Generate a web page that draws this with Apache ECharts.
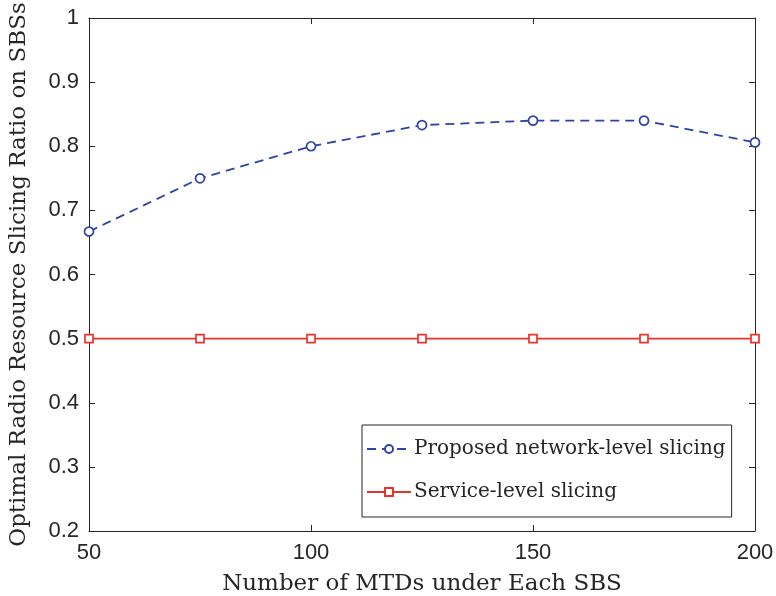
<!DOCTYPE html>
<html>
<head>
<meta charset="utf-8">
<script src="https://cdn.jsdelivr.net/npm/echarts@6/dist/echarts.min.js"></script>
<style>
  html, body { margin: 0; padding: 0; background: #fff; }
  #chart { width: 776px; height: 596px; }
</style>
</head>
<body>
<div id="chart"></div>
<script>
// values
var mtds = [50, 75, 100, 125, 150, 175, 200];
var proposed = [0.667, 0.75, 0.8, 0.833, 0.84, 0.84, 0.806];
var serviceLevel = [0.5, 0.5, 0.5, 0.5, 0.5, 0.5, 0.5];

var blue = '#2e43a6';
var red = '#e8352c';
var serif = '"DejaVu Serif", "Liberation Serif", serif';
var sans = '"Liberation Sans", Arial, sans-serif';
var titleSize = 23;

function pairs(xs, ys) {
  return xs.map(function (x, i) { return [x, ys[i]]; });
}

var chart = echarts.init(document.getElementById('chart'));

var boxAxis = {
  axisLine: { show: true, lineStyle: { color: '#262626', width: 1 } },
  axisTick: { show: true, inside: true, length: 6, lineStyle: { color: '#262626' } },
  splitLine: { show: false }
};

chart.setOption({
  animation: false,
  grid: { left: 89, right: 21, top: 18, bottom: 65, outerBoundsMode: 'none' },
  xAxis: [
    Object.assign({
      type: 'value', min: 50, max: 200, interval: 50,
      name: 'Number of MTDs under Each SBS',
      nameLocation: 'middle', nameGap: 53 - titleSize / 2,
      nameTextStyle: { fontFamily: serif, fontSize: titleSize, color: '#262626' },
      axisLabel: { fontFamily: sans, fontSize: 22, color: '#262626', margin: 11 }
    }, boxAxis),
    Object.assign({
      type: 'value', min: 50, max: 200, interval: 50, position: 'top',
      axisLabel: { show: false }
    }, boxAxis)
  ],
  yAxis: [
    Object.assign({
      type: 'value', min: 0.2, max: 1, interval: 0.1,
      name: 'Optimal Radio Resource Slicing Ratio on SBSs',
      nameLocation: 'middle', nameGap: 70 - titleSize / 2,
      nameTextStyle: { fontFamily: serif, fontSize: titleSize, color: '#262626' },
      axisLabel: {
        fontFamily: sans, fontSize: 22, color: '#262626', margin: 10,
        formatter: function (v) { return v === 1 ? '1' : v.toFixed(1); }
      }
    }, boxAxis),
    Object.assign({
      type: 'value', min: 0.2, max: 1, interval: 0.1, position: 'right',
      axisLabel: { show: false }
    }, boxAxis)
  ],
  legend: {
    orient: 'vertical',
    left: 362, top: 425,
    padding: [14, 6, 15, 4],
    itemGap: 23,
    itemWidth: 44, itemHeight: 10,
    backgroundColor: '#fff',
    borderColor: '#262626', borderWidth: 1,
    textStyle: { fontFamily: serif, fontSize: 20, color: '#262626', padding: [0, 0, 0, -2] },
    data: ['Proposed network-level slicing', 'Service-level slicing']
  },
  series: [
    {
      name: 'Proposed network-level slicing',
      type: 'line',
      data: pairs(mtds, proposed),
      symbol: 'circle', symbolSize: 9,
      lineStyle: { color: blue, width: 1.8, type: [9, 6] },
      itemStyle: { color: '#fff', borderColor: blue, borderWidth: 1.7 },
      z: 3
    },
    {
      name: 'Service-level slicing',
      type: 'line',
      data: pairs(mtds, serviceLevel),
      symbol: 'rect', symbolSize: 8,
      lineStyle: { color: red, width: 1.8 },
      itemStyle: { color: '#fff', borderColor: red, borderWidth: 1.7 },
      z: 2
    }
  ]
});
</script>
</body>
</html>
